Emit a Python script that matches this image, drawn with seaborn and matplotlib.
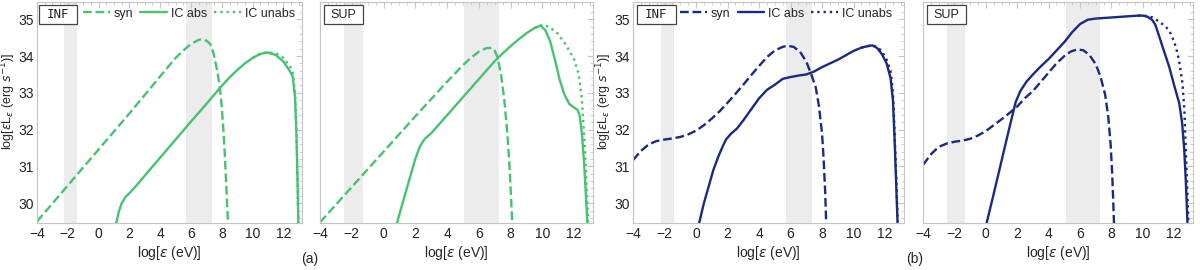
import matplotlib
matplotlib.use('Agg')
from matplotlib import pyplot as plt
from matplotlib.ticker import MultipleLocator
from matplotlib.patches import Rectangle
import seaborn as sns

# (a) INF, green
inf_a_syn_x = [-4, -2, 0, 2, 4, 5, 5.5, 6, 6.5, 6.7, 7.0, 7.2, 7.34, 7.5, 7.7, 7.87, 8.0, 8.1, 8.19,
               8.3, 8.4]
inf_a_syn_y = [29.5, 30.48, 31.46, 32.44, 33.45, 33.95, 34.15, 34.33, 34.44, 34.46, 34.42, 34.35,
               34.26, 34.0, 33.6, 33.17, 32.6, 32.0, 31.36, 30.4, 29.45]
inf_a_abs_x = [1.15, 1.3, 1.5, 1.75, 2.0, 2.5, 3, 4, 5, 6, 7, 7.87, 8.5, 9, 9.5, 10, 10.5, 10.95,
               11.5, 12.0, 12.43, 12.6, 12.75, 12.85, 12.92, 12.97]
inf_a_abs_y = [29.46, 29.75, 30.0, 30.17, 30.27, 30.5, 30.75, 31.24, 31.73, 32.22, 32.7, 33.13,
               33.42, 33.62, 33.8, 33.95, 34.06, 34.1, 34.03, 33.85, 33.58, 33.45, 32.9, 31.8,
               30.5, 29.46]
inf_a_unabs_x = [10, 10.5, 10.95, 11.5, 12.0, 12.43, 12.6, 12.75, 12.85, 12.92, 12.97]
inf_a_unabs_y = [33.95, 34.06, 34.1, 34.08, 33.95, 33.72, 33.55, 33.0, 31.9, 30.6, 29.46]

# (a) SUP, green
sup_a_syn_x = [-4, -2, 0, 2, 4, 5, 5.5, 6, 6.5, 6.8, 7.0, 7.2, 7.4, 7.6, 7.8, 7.95, 8.05, 8.12]
sup_a_syn_y = [29.48, 30.44, 31.4, 32.36, 33.3, 33.75, 33.95, 34.12, 34.22, 34.22, 34.15, 33.95,
               33.5, 32.85, 31.9, 30.9, 30.0, 29.3]
sup_a_abs_x = [0.85, 1.1, 1.4, 1.7, 2.0, 2.3, 2.6, 3, 4, 5, 6, 7, 7.5, 8, 8.5, 9, 9.5, 9.9, 10.2,
               10.5, 10.8, 11.1, 11.4, 11.7, 12.0, 12.2, 12.35, 12.5, 12.65, 12.75, 12.85]
sup_a_abs_y = [29.46, 29.85, 30.3, 30.75, 31.2, 31.55, 31.75, 31.9, 32.39, 32.88, 33.37, 33.86,
               34.07, 34.27, 34.45, 34.62, 34.76, 34.83, 34.7, 34.4, 33.9, 33.35, 32.95, 32.7,
               32.6, 32.55, 32.4, 31.9, 31.0, 30.2, 29.4]
sup_a_unabs_x = [9.5, 9.9, 10.1, 10.5, 11.0, 11.5, 12.0, 12.3, 12.5, 12.7, 12.8, 12.9]
sup_a_unabs_y = [34.76, 34.83, 34.85, 34.78, 34.6, 34.3, 33.92, 33.5, 32.8, 31.4, 30.4, 29.4]

# (b) INF, navy
inf_b_syn_x = [-4, -3.5, -3, -2.5, -2, -1.5, -1, -0.5, 0, 0.5, 1, 1.5, 2, 2.5, 3, 3.5, 4, 4.5, 5,
               5.5, 5.8, 6.2, 6.6, 7.0, 7.3, 7.6, 7.8, 8.0, 8.1, 8.2, 8.26]
inf_b_syn_y = [31.17, 31.42, 31.6, 31.69, 31.73, 31.76, 31.8, 31.87, 31.97, 32.12, 32.3, 32.5,
               32.73, 32.97, 33.22, 33.48, 33.73, 33.97, 34.15, 34.25, 34.28, 34.25, 34.12, 33.85,
               33.52, 33.15, 32.65, 31.9, 31.2, 30.3, 29.5]
inf_b_abs_x = [0.2, 0.5, 0.8, 1.1, 1.4, 1.7, 1.9, 2.2, 2.6, 3, 3.5, 4, 4.5, 5, 5.5, 6, 6.5, 7, 7.5,
               8, 8.5, 9, 9.5, 10, 10.5, 11, 11.2, 11.5, 11.8, 12.1, 12.35, 12.5, 12.6, 12.7, 12.8]
inf_b_abs_y = [29.46, 30.0, 30.45, 30.9, 31.25, 31.55, 31.73, 31.88, 32.03, 32.25, 32.55, 32.85,
               33.08, 33.22, 33.38, 33.43, 33.47, 33.5, 33.58, 33.7, 33.8, 33.9, 34.02, 34.14,
               34.23, 34.28, 34.29, 34.22, 34.05, 33.8, 33.4, 32.8, 31.8, 30.6, 29.4]
inf_b_unabs_x = [10.5, 11, 11.2, 11.5, 11.8, 12.1, 12.35, 12.5, 12.6, 12.7, 12.8]
inf_b_unabs_y = [34.23, 34.28, 34.29, 34.25, 34.13, 33.9, 33.6, 33.0, 32.0, 30.8, 29.5]

# (b) SUP, navy
sup_b_syn_x = [-4, -3.5, -3, -2.5, -2, -1.5, -1, -0.5, 0, 0.5, 1, 1.5, 2, 2.5, 3, 3.5, 4, 4.5, 5,
               5.4, 5.8, 6.2, 6.6, 7.0, 7.3, 7.6, 7.8, 7.95, 8.05, 8.12, 8.17]
sup_b_syn_y = [31.04, 31.33, 31.53, 31.62, 31.67, 31.7, 31.75, 31.84, 31.96, 32.12, 32.28, 32.45,
               32.63, 32.86, 33.05, 33.3, 33.55, 33.8, 34.0, 34.12, 34.18, 34.16, 34.03, 33.78,
               33.45, 32.95, 32.35, 31.6, 30.8, 30.0, 29.4]
sup_b_abs_x = [0.05, 0.5, 1.0, 1.5, 1.9, 2.2, 2.6, 3.0, 3.5, 4.0, 4.5, 5.0, 5.5, 6.0, 6.5, 7.0, 8.0,
               9.0, 9.7, 10.0, 10.3, 10.6, 10.8, 11.05, 11.3, 11.68, 12.0, 12.32, 12.5, 12.64,
               12.75, 12.85]
sup_b_abs_y = [29.46, 30.25, 31.15, 32.05, 32.75, 33.05, 33.31, 33.5, 33.72, 33.92, 34.15, 34.38,
               34.65, 34.87, 34.99, 35.02, 35.05, 35.08, 35.1, 35.1, 35.07, 34.98, 34.85, 34.53,
               34.2, 33.71, 33.2, 32.72, 32.2, 31.45, 30.5, 29.4]
sup_b_unabs_x = [9.7, 10.0, 10.3, 10.62, 11.0, 11.47, 11.8, 12.1, 12.3, 12.53, 12.65, 12.74,
                 12.83, 12.91]
sup_b_unabs_y = [35.1, 35.1, 35.09, 35.05, 34.95, 34.8, 34.6, 34.26, 33.9, 33.26, 32.5, 31.45,
                 30.4, 29.4]

# shaded bands (x ranges)
inf_bands = [(-2.25, -1.4), (5.7, 7.35)]
sup_bands = [(-2.5, -1.3), (5.1, 7.3)]

green = '#47c270'
navy = '#1a2a7f'

sns.set_style('white')
plt.rcParams['font.family'] = ['Liberation Sans', 'DejaVu Sans']
plt.rcParams['mathtext.fontset'] = 'dejavusans'

fig = plt.figure(figsize=(12, 2.7), dpi=100)
boxes = [[0.0308, 0.174, 0.2208, 0.8185],
         [0.2667, 0.174, 0.2275, 0.8185],
         [0.5275, 0.174, 0.2258, 0.8185],
         [0.7692, 0.174, 0.225, 0.8185]]

panels = [
    ('INF', green, inf_bands, (inf_a_syn_x, inf_a_syn_y), (inf_a_abs_x, inf_a_abs_y), (inf_a_unabs_x, inf_a_unabs_y)),
    ('SUP', green, sup_bands, (sup_a_syn_x, sup_a_syn_y), (sup_a_abs_x, sup_a_abs_y), (sup_a_unabs_x, sup_a_unabs_y)),
    ('INF', navy, inf_bands, (inf_b_syn_x, inf_b_syn_y), (inf_b_abs_x, inf_b_abs_y), (inf_b_unabs_x, inf_b_unabs_y)),
    ('SUP', navy, sup_bands, (sup_b_syn_x, sup_b_syn_y), (sup_b_abs_x, sup_b_abs_y), (sup_b_unabs_x, sup_b_unabs_y)),
]

for i, (name, color, bands, syn, ic_abs, ic_unabs) in enumerate(panels):
    ax = fig.add_axes(boxes[i])
    for lo, hi in bands:
        ax.axvspan(lo, hi, color='#ececec', lw=0, zorder=0)
    sns.lineplot(x=syn[0], y=syn[1], ax=ax, color=color, lw=1.7, linestyle='--', label='syn')
    sns.lineplot(x=ic_abs[0], y=ic_abs[1], ax=ax, color=color, lw=1.7, label='IC abs')
    sns.lineplot(x=ic_unabs[0], y=ic_unabs[1], ax=ax, color=color, lw=1.7, linestyle=':', label='IC unabs')
    ax.set_xlim(-4, 13.2)
    ax.set_ylim(29.46, 35.47)
    ax.xaxis.set_major_locator(MultipleLocator(2))
    ax.xaxis.set_minor_locator(MultipleLocator(0.5))
    ax.yaxis.set_major_locator(MultipleLocator(1))
    ax.yaxis.set_minor_locator(MultipleLocator(0.2))
    ax.tick_params(which='both', direction='in', top=True, right=True, color='#c8c8c8',
                   labelcolor='#222222', labelsize=10, pad=3)
    ax.tick_params(axis='y', pad=2)
    ax.tick_params(which='major', length=4)
    ax.tick_params(which='minor', length=2)
    for sp in ax.spines.values():
        sp.set_color('#c4c4c4')
        sp.set_linewidth(0.8)
    ax.set_xlabel(r'log[$\varepsilon$ (eV)]', fontsize=10, labelpad=2)
    if i % 2 == 0:
        ax.set_ylabel(r'log[$\varepsilon$L$_\varepsilon$ (erg $s^{-1}$)]', fontsize=9)
        ax.yaxis.set_label_coords(-19 / (boxes[i][2] * 1200), 0.55)
        handles, labels = ax.get_legend_handles_labels()
        ax.legend(handles, labels, loc='upper left', bbox_to_anchor=(0.175, 0.975), ncol=3,
                  frameon=False, fontsize=9, handlelength=2.15, handletextpad=0.3,
                  columnspacing=0.55, borderpad=0, borderaxespad=0)
    else:
        ax.set_ylabel('')
        ax.tick_params(labelleft=False)
        if ax.get_legend() is not None:
            ax.get_legend().remove()
    ax.add_patch(Rectangle((0.006 if i == 0 else 0.013, 0.9), 0.145, 0.086,
                           transform=ax.transAxes, fc='white', ec='#444444', lw=0.9, zorder=5))
    ax.text(0.0785 if i == 0 else 0.0855, 0.943, name, transform=ax.transAxes, ha='center',
            va='center', zorder=6, fontsize=9,
            family=['DejaVu Sans Mono'] if name == 'INF' else ['Liberation Sans'],
            color='#222222')

fig.text(0.258, 0.04, '(a)', ha='center', va='center', fontsize=10)
fig.text(0.762, 0.04, '(b)', ha='center', va='center', fontsize=10)

fig.savefig('out.png', dpi=100)
